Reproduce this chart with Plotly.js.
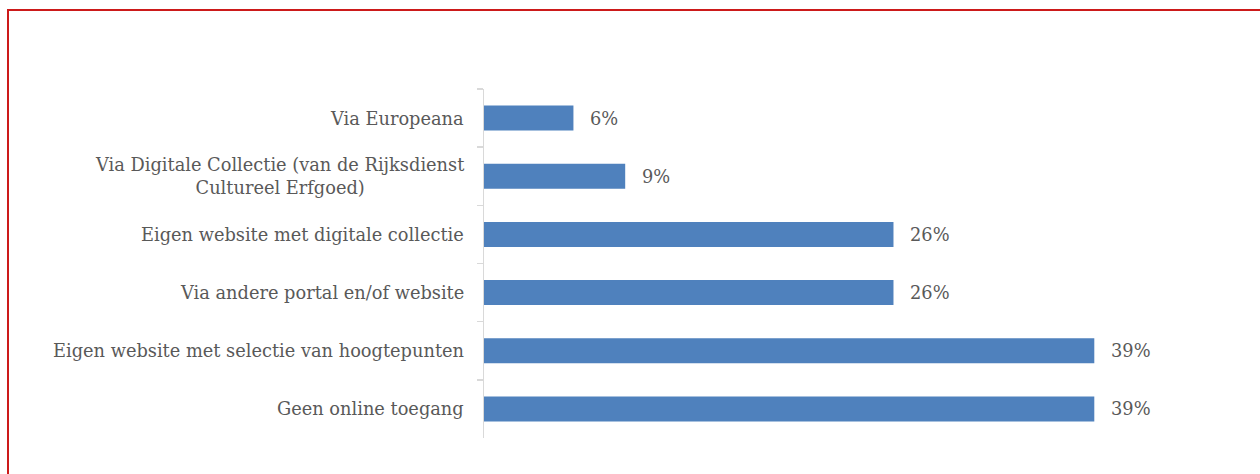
<!DOCTYPE html>
<html>
<head>
<meta charset="utf-8">
<script src="https://cdn.plot.ly/plotly-3.0.1.min.js"></script>
<style>
  html, body { margin: 0; padding: 0; background: #fff; }
  #frame { position: absolute; left: 7px; top: 9px; width: 1253px; height: 465px;
           border-top: 2px solid #cc1a1a; border-left: 2px solid #cc1a1a; box-sizing: border-box; }
  #chart { position: absolute; left: 0; top: 0; width: 1260px; height: 474px; }
</style>
</head>
<body>
<div id="frame"></div>
<div id="chart"></div>
<script>
const categories = [
  "Via Europeana",
  "Via Digitale Collectie (van de Rijksdienst<br>Cultureel Erfgoed)",
  "Eigen website met digitale collectie",
  "Via andere portal en/of website",
  "Eigen website met selectie van hoogtepunten",
  "Geen online toegang"
];
const values = [5.7, 9.0, 26.1, 26.1, 38.9, 38.9];

const textFont = { family: "DejaVu Serif, Liberation Serif, serif", size: 17.8, color: "#595959" };

const trace = {
  type: "bar",
  orientation: "h",
  x: values,
  y: categories,
  marker: { color: "#4f81bd", line: { width: 0 } },
  hoverinfo: "none"
};

const annotations = [];
categories.forEach((c, i) => {
  annotations.push({
    x: values[i], y: c, xref: "x", yref: "y",
    text: Math.round(values[i]) + "%",
    showarrow: false, xanchor: "left", xshift: 15,
    font: textFont
  });
  annotations.push({
    x: 0, y: c, xref: "paper", yref: "y",
    text: c, align: "center",
    showarrow: false, xanchor: "right", xshift: -18,
    font: textFont
  });
});

const layout = {
  width: 1260, height: 474,
  margin: { l: 484, r: 70, t: 89, b: 36 },
  paper_bgcolor: "rgba(0,0,0,0)",
  plot_bgcolor: "rgba(0,0,0,0)",
  bargap: 0.57,
  showlegend: false,
  xaxis: { range: [0, 45], visible: false, fixedrange: true },
  yaxis: {
    type: "category",
    autorange: "reversed",
    showticklabels: false,
    showline: true, linecolor: "#d9d9d9", linewidth: 1.5,
    ticks: "outside", tickson: "boundaries", ticklen: 6, tickcolor: "#d9d9d9", tickwidth: 1.5,
    showgrid: false, zeroline: false, fixedrange: true
  },
  annotations: annotations
};

Plotly.newPlot("chart", [trace], layout, { displayModeBar: false, staticPlot: true });
</script>
</body>
</html>
